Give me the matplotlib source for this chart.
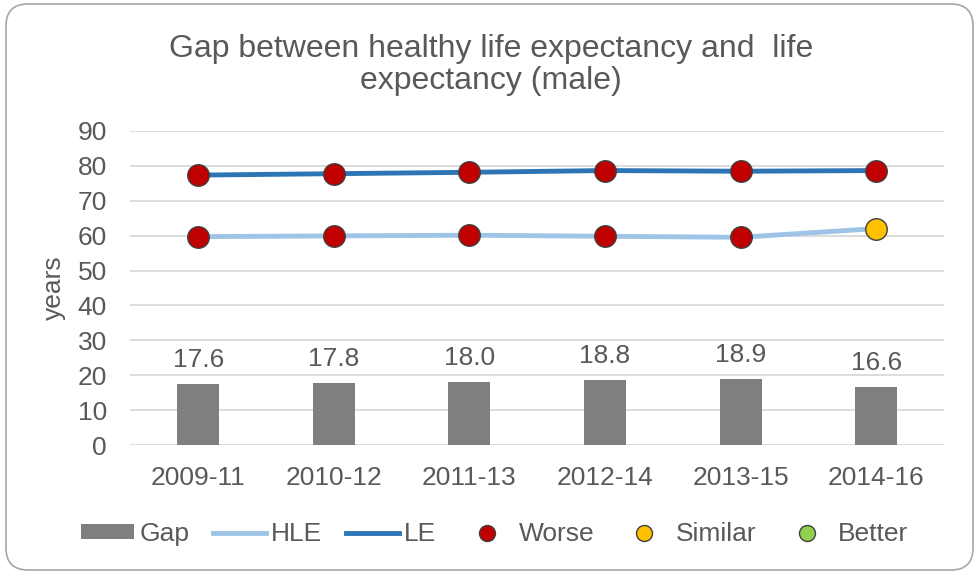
import matplotlib
matplotlib.use("Agg")
import matplotlib.pyplot as plt
from matplotlib.patches import FancyBboxPatch, Patch
from matplotlib.lines import Line2D

# ---- data ----
periods = ["2009-11", "2010-12", "2011-13", "2012-14", "2013-15", "2014-16"]
le = [77.3, 77.7, 78.1, 78.6, 78.4, 78.6]
hle = [59.7, 59.9, 60.1, 59.8, 59.5, 62.0]
gap = [17.6, 17.8, 18.0, 18.8, 18.9, 16.6]
le_status = ["Worse", "Worse", "Worse", "Worse", "Worse", "Worse"]
hle_status = ["Worse", "Worse", "Worse", "Worse", "Worse", "Similar"]
y_ticks = [0, 10, 20, 30, 40, 50, 60, 70, 80, 90]

plt.rcParams['font.family'] = ['Liberation Sans', 'DejaVu Sans']
TXT = '#595959'
GRID = '#d9d9d9'
BAR = '#7f7f7f'
HLE_C = '#9dc3e6'
LE_C = '#2e75b6'
STATUS_C = {"Worse": '#c00000', "Similar": '#ffc000', "Better": '#92d050'}
EDGE = '#404040'
FS = 19

W, H = 978, 576
fig = plt.figure(figsize=(W / 100, H / 100), dpi=100)
fig.patch.set_facecolor('white')

# rounded chart border
border = FancyBboxPatch((6, 6), 967, 566, boxstyle="round,pad=0,rounding_size=22",
                        transform=None, facecolor='none', edgecolor='#a6a6a6',
                        linewidth=1.2)
fig.patches.append(border)

ax = fig.add_axes([130.4 / W, 130.7 / H, 813.6 / W, 314.6 / H])
x = list(range(len(periods)))

ax.bar(x, gap, width=0.31, color=BAR, zorder=2)
for xi, g in zip(x, gap):
    ax.annotate(f"{g:.1f}", (xi, g), xytext=(0, 12.2), textcoords='offset points',
                ha='center', va='baseline', fontsize=FS, color=TXT)

ax.plot(x, hle, color=HLE_C, lw=3.5, zorder=3, solid_capstyle='butt')
ax.plot(x, le, color=LE_C, lw=3.5, zorder=3, solid_capstyle='butt')

for series, status in ((hle, hle_status), (le, le_status)):
    for xi, v, s in zip(x, series, status):
        ax.plot([xi], [v], linestyle='none', marker='o', markersize=15.5,
                markerfacecolor=STATUS_C[s], markeredgecolor=EDGE,
                markeredgewidth=1.0, zorder=4)

ax.set_xlim(-0.5, len(periods) - 0.5)
ax.set_ylim(0, 90)
ax.set_yticks(y_ticks)
ax.set_xticks(x)
ax.set_xticklabels(periods)
ax.tick_params(axis='both', length=0, labelsize=FS, labelcolor=TXT)
ax.tick_params(axis='y', pad=17)
ax.tick_params(axis='x', pad=15)
ax.grid(axis='y', color=GRID, lw=1.3, zorder=0)
ax.set_axisbelow(True)
for sp in ax.spines.values():
    sp.set_visible(False)

ax.set_ylabel("years", fontsize=FS, color=TXT)
ax.yaxis.set_label_coords((66 - 130.4) / 813.6, (445.3 - 288) / 314.6)

fig.text(491 / W, 1 - 65 / H,
         "Gap between healthy life expectancy and  life\nexpectancy (male)",
         ha='center', va='center', fontsize=23, color=TXT, linespacing=1.12)

handles = [
    Patch(facecolor=BAR, edgecolor='none'),
    Line2D([], [], color=HLE_C, lw=3.5),
    Line2D([], [], color=LE_C, lw=3.5),
    Line2D([], [], linestyle='none', marker='o', markersize=11.5,
           markerfacecolor=STATUS_C["Worse"], markeredgecolor=EDGE, markeredgewidth=1.0),
    Line2D([], [], linestyle='none', marker='o', markersize=11.5,
           markerfacecolor=STATUS_C["Similar"], markeredgecolor=EDGE, markeredgewidth=1.0),
    Line2D([], [], linestyle='none', marker='o', markersize=11.5,
           markerfacecolor=STATUS_C["Better"], markeredgecolor=EDGE, markeredgewidth=1.0),
]
labels = ["Gap", "HLE", "LE", "Worse", "Similar", "Better"]
leg = fig.legend(handles, labels, loc='center', bbox_to_anchor=(495 / W, 42 / H),
                 ncol=6, frameon=False, fontsize=FS, handlelength=2.0,
                 handleheight=0.5, handletextpad=0.2, columnspacing=0.9,
                 borderaxespad=0, borderpad=0)
for t in leg.get_texts():
    t.set_color(TXT)

fig.savefig("out.png", dpi=100, facecolor='white')
